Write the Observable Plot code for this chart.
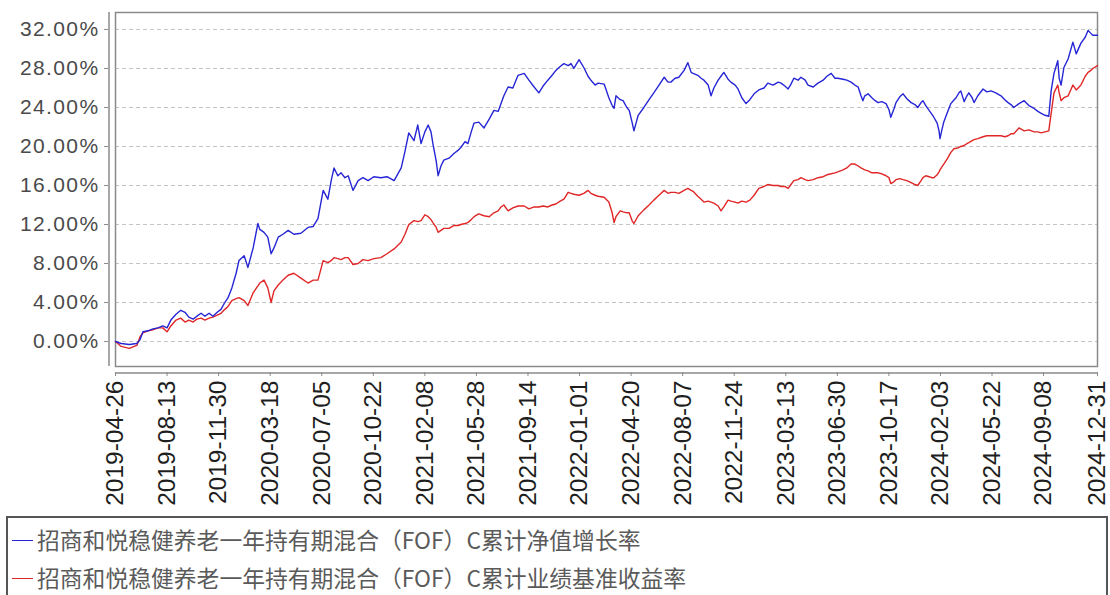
<!DOCTYPE html>
<html>
<head>
<meta charset="utf-8">
<script src="https://cdn.jsdelivr.net/npm/d3@7"></script>
<script src="https://cdn.jsdelivr.net/npm/@observablehq/plot@0.6"></script>
<style>
  html, body { margin: 0; padding: 0; background: #fff; }
  #wrap { position: relative; width: 1110px; height: 595px; overflow: hidden; }
  g[aria-label="y-axis tick label"] text { letter-spacing: 1.4px; }
  #legend {
    position: absolute; left: 6px; top: 516px; width: 1102px; height: 100px;
    border: 2px solid #555; box-sizing: border-box;
    font-family: "Noto Sans CJK SC", sans-serif; font-size: 22.8px; color: #5a5a5a;
  }
  .row { position: absolute; left: 0; height: 30px; line-height: 30px; white-space: nowrap; }
  .sw { position: absolute; left: 4px; top: 15px; width: 21px; height: 0; border-top: 1.3px solid; }
  .tx { position: absolute; left: 29px; top: 0; }
</style>
</head>
<body>
<div id="wrap">
  <div id="chart"></div>
  <div id="legend"></div>
</div>
<script>
// ---- data (percent) ----
const dates = [
"2019-04-26","2019-05-08","2019-05-25","2019-06-10","2019-06-17","2019-06-23","2019-07-04","2019-07-14","2019-07-25","2019-08-04",
"2019-08-13","2019-08-21","2019-09-01","2019-09-11","2019-09-20","2019-09-28","2019-10-07","2019-10-15","2019-10-24","2019-11-01",
"2019-11-10","2019-11-18","2019-11-27","2019-12-05","2019-12-13","2019-12-20","2019-12-28","2020-01-06","2020-01-12","2020-01-23",
"2020-01-31","2020-02-11","2020-02-21","2020-02-25","2020-03-05","2020-03-13","2020-03-20","2020-03-26","2020-04-04","2020-04-14",
"2020-04-25","2020-05-07","2020-05-22","2020-06-06","2020-06-17","2020-06-27","2020-07-08","2020-07-18","2020-07-25","2020-07-31",
"2020-08-08","2020-08-15","2020-08-23","2020-08-30","2020-09-09","2020-09-20","2020-09-30","2020-10-11","2020-10-23","2020-11-07",
"2020-11-20","2020-12-05","2020-12-20","2020-12-28","2021-01-05","2021-01-16","2021-01-24","2021-01-31","2021-02-08","2021-02-15",
"2021-02-21","2021-02-25","2021-03-04","2021-03-08","2021-03-14","2021-03-20","2021-03-31","2021-04-11","2021-04-19","2021-04-25",
"2021-05-04","2021-05-10","2021-05-17","2021-05-23","2021-06-02","2021-06-13","2021-06-24","2021-07-04","2021-07-13","2021-07-19",
"2021-07-25","2021-08-03","2021-08-13","2021-08-24","2021-09-06","2021-09-16","2021-09-27","2021-10-07","2021-10-16","2021-10-26",
"2021-11-04","2021-11-12","2021-11-21","2021-11-29","2021-12-08","2021-12-14","2021-12-20","2021-12-31","2022-01-10","2022-01-19",
"2022-01-25","2022-02-03","2022-02-09","2022-02-22","2022-03-04","2022-03-11","2022-03-15","2022-03-19","2022-03-28","2022-04-03",
"2022-04-11","2022-04-16","2022-04-22","2022-04-26","2022-05-05","2022-05-17","2022-05-28","2022-06-07","2022-06-18","2022-06-29",
"2022-07-07","2022-07-13","2022-07-22","2022-07-30","2022-08-10","2022-08-18","2022-08-25","2022-08-29","2022-09-08","2022-09-15",
"2022-09-21","2022-09-30","2022-10-06","2022-10-12","2022-10-21","2022-10-27","2022-11-02","2022-11-11","2022-11-17","2022-11-26",
"2022-12-02","2022-12-10","2022-12-19","2022-12-27","2023-01-05","2023-01-15","2023-01-26","2023-02-03","2023-02-14","2023-02-25",
"2023-03-03","2023-03-11","2023-03-18","2023-03-24","2023-03-30","2023-04-08","2023-04-14","2023-04-23","2023-04-29","2023-05-10",
"2023-05-20","2023-05-31","2023-06-08","2023-06-17","2023-06-25","2023-07-01","2023-07-12","2023-07-20","2023-07-29","2023-08-06",
"2023-08-13","2023-08-19","2023-08-23","2023-08-27","2023-09-03","2023-09-11","2023-09-18","2023-09-24","2023-10-02","2023-10-11",
"2023-10-17","2023-10-21","2023-10-28","2023-11-01","2023-11-09","2023-11-16","2023-11-24","2023-12-03","2023-12-11","2023-12-17",
"2023-12-24","2023-12-28","2024-01-03","2024-01-10","2024-01-16","2024-01-20","2024-01-27","2024-01-31","2024-02-02","2024-02-06",
"2024-02-10","2024-02-17","2024-02-25","2024-03-03","2024-03-07","2024-03-13","2024-03-17","2024-03-24","2024-03-30","2024-04-03",
"2024-04-10","2024-04-14","2024-04-22","2024-05-03","2024-05-11","2024-05-20","2024-05-30","2024-06-10","2024-06-18","2024-06-25",
"2024-07-01","2024-07-07","2024-07-18","2024-07-29","2024-08-08","2024-08-19","2024-08-27","2024-09-03","2024-09-11","2024-09-19",
"2024-09-24","2024-09-30","2024-10-08","2024-10-11","2024-10-15","2024-10-21","2024-10-30","2024-11-09","2024-11-16","2024-11-26",
"2024-12-05","2024-12-11","2024-12-17","2024-12-21","2024-12-31"
];
// 招商和悦稳健养老一年持有期混合（FOF）C累计净值增长率
const navGrowth = [
0.0,-0.2,-0.3,-0.2,0.2,1.0,1.1,1.3,1.4,1.6,
1.4,2.2,2.8,3.2,3.0,2.5,2.3,2.6,2.9,2.6,
2.9,2.6,3.0,3.3,4.0,4.5,5.5,7.0,8.3,8.8,
7.6,9.6,12.1,11.5,11.2,10.7,9.0,9.6,10.7,11.0,
11.4,11.0,11.1,11.7,11.8,12.6,15.5,14.6,16.5,17.8,
17.0,17.3,16.8,17.0,15.5,16.5,16.8,16.5,16.9,16.8,
16.9,16.5,17.8,19.5,21.4,20.6,22.2,20.3,21.5,22.2,
21.5,20.3,18.5,17.0,18.0,18.6,18.8,19.3,19.6,19.9,
20.5,20.3,21.5,22.4,22.5,21.9,22.8,23.7,23.6,24.4,
25.2,26.1,26.0,27.3,27.5,26.8,26.1,25.5,26.2,26.8,
27.3,27.8,28.2,28.5,28.3,28.5,28.0,28.9,28.1,27.2,
26.8,26.3,26.5,26.4,25.0,24.2,23.9,25.2,24.8,24.7,
24.0,23.7,22.5,21.6,23.2,24.0,24.8,25.5,26.3,27.1,
26.6,26.6,27.0,27.1,27.8,28.6,27.6,27.5,27.3,27.0,
26.8,26.3,25.2,26.0,26.8,27.2,27.6,26.9,26.6,26.3,
25.9,25.0,24.4,24.8,25.4,25.8,26.0,26.5,26.3,26.6,
26.5,26.2,25.9,26.4,27.0,26.8,27.1,26.8,26.3,26.1,
26.5,26.8,27.2,27.5,27.0,27.0,26.9,26.8,26.6,26.3,
26.1,25.2,24.7,25.2,25.4,25.0,24.7,24.5,24.6,24.4,
23.8,23.0,23.9,24.5,25.1,25.4,24.9,24.5,24.3,24.0,
24.5,24.7,24.2,23.7,23.3,23.0,22.4,21.6,20.8,21.7,
22.5,23.4,24.4,24.8,25.0,25.5,25.7,24.6,25.2,25.5,
25.0,24.5,25.2,25.9,25.6,25.7,25.5,25.2,24.8,24.5,
24.3,24.0,24.4,24.7,24.2,23.9,23.6,23.4,23.2,23.1,
25.7,27.5,28.8,27.0,26.3,28.1,29.0,30.7,29.5,30.6,
31.2,31.9,31.6,31.4,31.4
];
// 招商和悦稳健养老一年持有期混合（FOF）C累计业绩基准收益率
const benchmark = [
0.0,-0.5,-0.7,-0.4,0.5,0.9,1.1,1.2,1.4,1.4,
1.0,1.6,2.2,2.4,2.0,2.2,2.0,2.3,2.4,2.2,
2.4,2.5,2.7,2.9,3.3,3.6,4.2,4.4,4.5,4.2,
3.7,5.0,5.7,6.0,6.3,5.5,4.0,5.2,5.8,6.3,
6.8,7.0,6.5,6.0,6.3,6.3,8.3,8.1,8.3,8.6,
8.5,8.4,8.6,8.6,7.9,8.0,8.4,8.3,8.5,8.6,
9.0,9.5,10.2,11.0,12.0,12.4,12.3,12.4,13.0,12.8,
12.5,12.2,11.7,11.2,11.4,11.6,11.6,11.9,11.9,12.0,
12.1,12.2,12.5,12.8,13.1,12.9,12.8,13.2,13.4,13.8,
14.0,13.4,13.7,13.9,13.9,13.6,13.8,13.8,13.9,13.8,
14.0,14.1,14.4,14.6,15.3,15.2,15.1,15.0,15.2,15.5,
15.2,15.0,14.9,14.8,14.3,13.2,12.2,12.8,13.4,13.3,
13.2,13.2,12.4,12.1,12.9,13.5,14.0,14.5,15.0,15.5,
15.2,15.3,15.3,15.2,15.5,15.7,15.5,15.4,14.9,14.6,
14.3,14.4,14.3,14.2,13.9,13.4,13.8,14.5,14.4,14.3,
14.2,14.4,14.3,14.5,15.0,15.7,15.9,16.1,16.0,16.0,
15.9,15.9,15.7,16.1,16.5,16.6,16.8,16.6,16.5,16.6,
16.8,16.9,17.1,17.2,17.3,17.4,17.6,17.8,18.2,18.2,
18.0,17.8,17.7,17.6,17.5,17.3,17.3,17.3,17.2,17.0,
16.8,16.2,16.4,16.6,16.7,16.6,16.5,16.3,16.1,16.0,
16.5,16.8,17.0,16.9,16.8,16.8,17.1,17.4,17.6,17.9,
18.2,18.7,19.4,19.8,19.8,19.9,20.0,20.1,20.3,20.4,
20.6,20.7,20.8,21.0,21.1,21.1,21.1,21.1,21.0,21.1,
21.3,21.3,21.9,21.6,21.7,21.5,21.5,21.4,21.5,21.6,
23.4,25.5,26.3,25.5,24.7,25.0,25.2,26.3,25.8,26.3,
27.2,27.6,27.8,28.0,28.3
];
const yTicks = [0, 4, 8, 12, 16, 20, 24, 28, 32];
const xTickLabels = [
"2019-04-26","2019-08-13","2019-11-30","2020-03-18","2020-07-05","2020-10-22","2021-02-08",
"2021-05-28","2021-09-14","2022-01-01","2022-04-20","2022-08-07","2022-11-24","2023-03-13",
"2023-06-30","2023-10-17","2024-02-03","2024-05-22","2024-09-08","2024-12-31"
];
const seriesNames = [
"招商和悦稳健养老一年持有期混合（FOF）C累计净值增长率",
"招商和悦稳健养老一年持有期混合（FOF）C累计业绩基准收益率"
];
const seriesColors = ["#2626d6", "#e02626"];
const yDomain = [-2.56, 33.74];

// ---- build ----
const parse = d3.utcParse("%Y-%m-%d");
const rows = dates.map((d, i) => ({date: parse(d), nav: navGrowth[i], bench: benchmark[i]}));
const xTicks = xTickLabels.map(parse);
const xStart = xTicks[0], xEnd = xTicks[xTicks.length - 1];

const chart = Plot.plot({
  width: 1110,
  height: 512,
  marginLeft: 115,
  marginRight: 13,
  marginTop: 12,
  marginBottom: 146,
  style: {fontFamily: "'Liberation Sans', Arial, sans-serif", background: "#fff", overflow: "visible"},
  x: {type: "utc", domain: [xStart, xEnd]},
  y: {domain: yDomain},
  marks: [
    Plot.gridY(yTicks, {stroke: "#c4c4c4", strokeOpacity: 1, strokeDasharray: "4,3", strokeWidth: 1}),
    Plot.frame({stroke: "#8a8a8a", strokeWidth: 1.5}),
    Plot.ruleX([xStart], {dx: -6.5, stroke: "#8a8a8a", strokeWidth: 1.5}),
    Plot.ruleY([yDomain[0]], {dy: 6.5, stroke: "#8a8a8a", strokeWidth: 1.5}),
    Plot.axisY(yTicks, {
      tickSize: 4, tickPadding: 5, dx: -7,
      tickFormat: d => d.toFixed(2) + "%",
      fontSize: 21, fill: "#4a4a4a", stroke: "#8a8a8a"
    }),
    Plot.axisX(xTicks, {
      tickSize: 4, tickPadding: 4, dy: 6, tickRotate: -90,
      tickFormat: d3.utcFormat("%Y-%m-%d"),
      fontSize: 24.5, fill: "#1e1e1e", stroke: "#8a8a8a"
    }),
    Plot.lineY(rows, {x: "date", y: "bench", stroke: seriesColors[1], strokeWidth: 1.4}),
    Plot.lineY(rows, {x: "date", y: "nav", stroke: seriesColors[0], strokeWidth: 1.4})
  ]
});
document.getElementById("chart").appendChild(chart);

// ---- legend ----
const legend = document.getElementById("legend");
seriesNames.forEach((name, i) => {
  const row = document.createElement("div");
  row.className = "row";
  row.style.top = (i === 0 ? 7 : 45) + "px";
  const sw = document.createElement("span");
  sw.className = "sw";
  sw.style.borderTopColor = seriesColors[i];
  const tx = document.createElement("span");
  tx.className = "tx";
  tx.textContent = name;
  row.appendChild(sw);
  row.appendChild(tx);
  legend.appendChild(row);
});
</script>
</body>
</html>
